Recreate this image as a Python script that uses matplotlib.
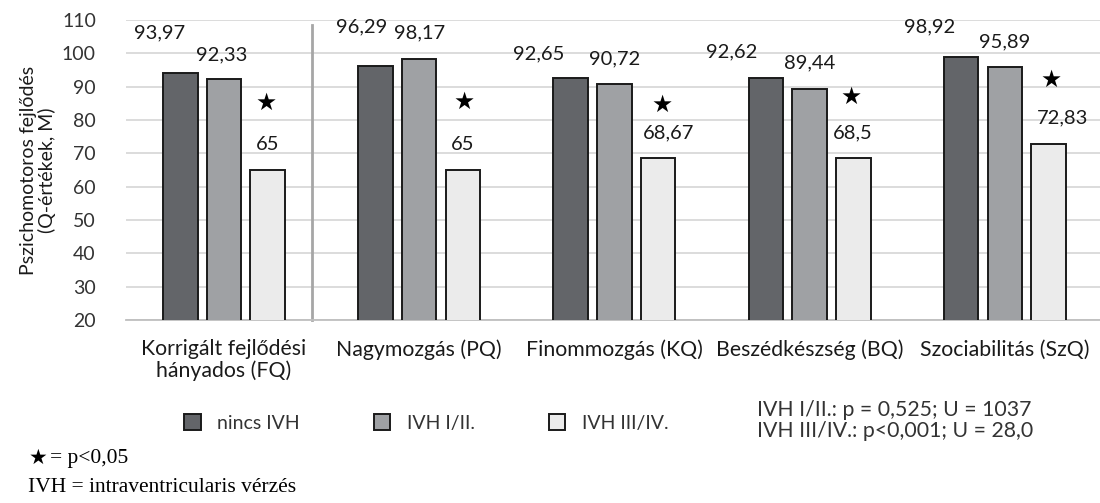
import numpy as np
from matplotlib import pyplot as plt
from matplotlib.patches import Patch

# values
categories = ['Korrigált fejlődési\nhányados (FQ)', 'Nagymozgás (PQ)', 'Finommozgás (KQ)',
              'Beszédkészség (BQ)', 'Szociabilitás (SzQ)']
series_names = ['nincs IVH', 'IVH I/II.', 'IVH III/IV.']
nincs_ivh = [93.97, 96.29, 92.65, 92.62, 98.92]
ivh_1_2 = [92.33, 98.17, 90.72, 89.44, 95.89]
ivh_3_4 = [65, 65, 68.67, 68.5, 72.83]
significant = [True, True, True, True, True]
yticks = [20, 30, 40, 50, 60, 70, 80, 90, 100, 110]

# label placement (layout only)
lab_dx = [[-0.108, -0.072, -0.164, -0.174, -0.164],
          [-0.01, 0.0, 0.0, 0.0, 0.0],
          [0.0, 0.0, 0.056, 0.0, 0.072]]
lab_y = [[106.1, 107.9, 99.8, 100.4, 107.9],
         [99.5, 106.1, 98.3, 97.1, 103.4],
         [72.5, 72.5, 76.1, 76.1, 80.6]]
star_dx = [-0.01, 0.005, 0.02, -0.01, 0.015]
star_y = [85.1, 85.4, 84.5, 86.9, 92.0]

colors = ['#636569', '#9fa1a4', '#ebebeb']
plt.rcParams['font.family'] = ['Lato', 'DejaVu Sans']


def hu(v):
    # hungarian decimal comma, like the chart
    return ('%g' % v).replace('.', ',')


fig = plt.figure(figsize=(11, 5.03), dpi=100)
ax = fig.add_axes([126.4 / 1100, 1 - 320 / 503, 976 / 1100, 300 / 503])

x = np.arange(len(categories))
step = 0.2235
width = 0.177
series = [nincs_ivh, ivh_1_2, ivh_3_4]
for i, vals in enumerate(series):
    ax.bar(x + (i - 1) * step, vals, width, color=colors[i],
           edgecolor='#1a1a1a', linewidth=1.4, zorder=3)
    for j, v in enumerate(vals):
        ax.text(x[j] + (i - 1) * step + lab_dx[i][j], lab_y[i][j], hu(v),
                ha='center', va='center', fontsize=14.5, color='#1a1a1a', zorder=4)

for j in range(len(categories)):
    if significant[j]:
        ax.text(x[j] + step + star_dx[j], star_y[j], '\u2605', ha='center', va='center',
                fontsize=17, family='DejaVu Sans', color='black', zorder=4)

# separator between FQ and subscales
ax.plot([0.45, 0.45], [20, 108.5], color='#a6a6a6', lw=2, zorder=2, clip_on=False)

ax.set_xlim(-0.5, 4.5)
ax.set_ylim(20, 110)
ax.set_yticks(yticks)
ax.set_yticklabels([str(t) for t in yticks], fontsize=14, color='#333333')
ax.set_xticks(x)
ax.set_xticklabels(categories, fontsize=15.3, color='#1a1a1a', linespacing=1.05)
ax.tick_params(axis='y', length=0, pad=22)
ax.tick_params(axis='x', length=0, pad=14)
ax.grid(axis='y', color='#d9d9d9', lw=1.3, zorder=0)
for s in ['top', 'right', 'left']:
    ax.spines[s].set_visible(False)
ax.spines['bottom'].set_color('#bfbfbf')
ax.spines['bottom'].set_linewidth(1.3)
ax.set_ylabel('Pszichomotoros fejlődés\n(Q-értékek, M)', fontsize=14, color='#1a1a1a',
              linespacing=1.1)
ax.yaxis.set_label_coords(-0.072, 0.5)

handles = [Patch(facecolor=c, edgecolor='#1a1a1a', linewidth=1.4) for c in colors]
fig.legend(handles, series_names, loc='center left', bbox_to_anchor=(184 / 1100, 1 - 423 / 503),
           ncol=3, frameon=False, fontsize=14, handlelength=0.85, handleheight=0.85,
           handletextpad=0.85, columnspacing=3.8, borderpad=0, borderaxespad=0,
           labelcolor='#333333')

fig.text(757 / 1100, 1 - 410 / 503, 'IVH I/II.: p = 0,525; U = 1037', fontsize=15.3,
         va='center', ha='left', color='#333333')
fig.text(757 / 1100, 1 - 431 / 503, 'IVH III/IV.: p<0,001; U = 28,0', fontsize=15.3,
         va='center', ha='left', color='#333333')

fig.text(29 / 1100, 1 - 458 / 503, '\u2605', fontsize=15, family='DejaVu Sans',
         va='center', ha='left', color='black')
fig.text(50 / 1100, 1 - 458 / 503, '= p<0,05', fontsize=15.5, family='Liberation Serif',
         va='center', ha='left', color='black')
fig.text(28 / 1100, 1 - 487 / 503, 'IVH = intraventricularis vérzés', fontsize=15.5,
         family='Liberation Serif', va='center', ha='left', color='black')

plt.savefig('out.png', dpi=100)
